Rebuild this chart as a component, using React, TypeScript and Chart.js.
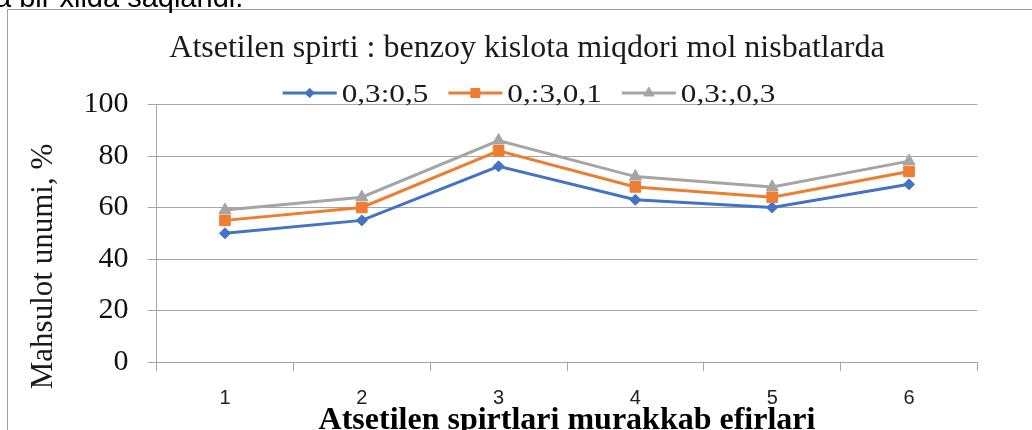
import { useEffect, useRef } from "react";
import { Chart, registerables } from "chart.js";

Chart.register(...registerables);

// ---- data ----
const categories = ["1", "2", "3", "4", "5", "6"];
const seriesNames = ["0,3:0,5", "0,:3,0,1", "0,3:,0,3"];
const seriesA = [50, 55, 76, 63, 60, 69];
const seriesB = [55, 60, 82, 68, 64, 74];
const seriesC = [59, 64, 86, 72, 68, 78];
const yTickValues = [0, 20, 40, 60, 80, 100];
const chartTitle = "Atsetilen spirti : benzoy kislota miqdori mol nisbatlarda";
const xAxisTitle = "Atsetilen spirtlari murakkab efirlari";
const yAxisTitle = "Mahsulot unumi, %";
const captionText = "a bir xilda saqlandi.";

const colors = ["#4472C4", "#ED7D31", "#A5A5A5"];
const pointStyles = ["rectRot", "rect", "triangle"];
const pointRadii = [5.5, 7.5, 7];
const gridColor = "#a6a6a6";
const serif = '"Liberation Serif", "Times New Roman", serif';
const sans = '"Liberation Sans", Arial, sans-serif';

function drawMarker(ctx: CanvasRenderingContext2D, style: string, x: number, y: number, r: number, color: string) {
  ctx.save();
  ctx.fillStyle = color;
  ctx.strokeStyle = color;
  ctx.lineWidth = 1;
  ctx.beginPath();
  if (style === "rect") {
    const s = Math.SQRT1_2 * r;
    ctx.rect(x - s, y - s, 2 * s, 2 * s);
  } else if (style === "rectRot") {
    ctx.moveTo(x - r, y);
    ctx.lineTo(x, y - r);
    ctx.lineTo(x + r, y);
    ctx.lineTo(x, y + r);
    ctx.closePath();
  } else {
    let rad = 0;
    ctx.moveTo(x + Math.sin(rad) * r, y - Math.cos(rad) * r);
    rad += (2 * Math.PI) / 3;
    ctx.lineTo(x + Math.sin(rad) * r, y - Math.cos(rad) * r);
    rad += (2 * Math.PI) / 3;
    ctx.lineTo(x + Math.sin(rad) * r, y - Math.cos(rad) * r);
    ctx.closePath();
  }
  ctx.fill();
  ctx.stroke();
  ctx.restore();
}

const decorPlugin = {
  id: "decor",
  afterDraw(chart: any) {
    const ctx: CanvasRenderingContext2D = chart.ctx;
    const area = chart.chartArea;
    ctx.save();

    // outer frame of the embedded chart
    ctx.strokeStyle = "#a0a0a0";
    ctx.lineWidth = 1;
    ctx.strokeRect(7.5, 9.5, 1100, 500);

    // caption of the surrounding document, cut at the top
    ctx.fillStyle = "#000";
    ctx.font = `29px ${sans}`;
    ctx.textAlign = "left";
    ctx.textBaseline = "alphabetic";
    ctx.fillText(captionText, -5, 7);

    // chart title
    ctx.fillStyle = "#1a1a1a";
    ctx.font = `32px ${serif}`;
    ctx.textAlign = "center";
    ctx.fillText(chartTitle, 527, 57);

    // legend
    const lineLen = 54;
    const gap = 5;
    const itemGap = 20;
    const sx = 1.2;
    ctx.font = `26px ${serif}`;
    const widths = seriesNames.map((n) => ctx.measureText(n).width * sx);
    const total = widths.reduce((a, w) => a + lineLen + gap + w, 0) + itemGap * (seriesNames.length - 1);
    let x = 529 - total / 2;
    const ly = 93;
    seriesNames.forEach((name, i) => {
      ctx.strokeStyle = colors[i];
      ctx.lineWidth = 3;
      ctx.beginPath();
      ctx.moveTo(x, ly);
      ctx.lineTo(x + lineLen, ly);
      ctx.stroke();
      drawMarker(ctx, pointStyles[i], x + lineLen / 2, ly, pointRadii[i] * 0.85, colors[i]);
      ctx.save();
      ctx.fillStyle = "#1a1a1a";
      ctx.textAlign = "left";
      ctx.translate(x + lineLen + gap, 102);
      ctx.scale(sx, 1);
      ctx.fillText(name, 0, 0);
      ctx.restore();
      x += lineLen + gap + widths[i] + itemGap;
    });

    // y axis title
    ctx.save();
    ctx.fillStyle = "#1a1a1a";
    ctx.font = `31px ${serif}`;
    ctx.textAlign = "center";
    ctx.translate(52, 266.5);
    ctx.rotate(-Math.PI / 2);
    ctx.fillText(yAxisTitle, 0, 0);
    ctx.restore();

    // x axis title
    ctx.fillStyle = "#000";
    ctx.font = `bold 32px ${serif}`;
    ctx.textAlign = "center";
    ctx.fillText(xAxisTitle, (area.left + area.right) / 2, 429);

    ctx.restore();
  },
};

export default function App() {
  const canvasRef = useRef<HTMLCanvasElement | null>(null);

  useEffect(() => {
    if (!canvasRef.current) return;
    const data = [seriesA, seriesB, seriesC];
    const chart = new Chart(canvasRef.current, {
      type: "line",
      data: {
        labels: categories,
        datasets: data.map((d, i) => ({
          label: seriesNames[i],
          data: d,
          borderColor: colors[i],
          backgroundColor: colors[i],
          borderWidth: 3,
          pointStyle: pointStyles[i] as any,
          pointRadius: pointRadii[i],
          pointBorderWidth: 1,
          pointBorderColor: colors[i],
          pointBackgroundColor: colors[i],
          tension: 0,
          fill: false,
          order: 3 - i,
        })),
      },
      options: {
        animation: false,
        responsive: true,
        maintainAspectRatio: false,
        layout: { padding: { left: 0, right: 54.6, top: 104.5, bottom: 0 } },
        plugins: {
          legend: { display: false },
          title: { display: false },
          tooltip: { enabled: false },
        },
        scales: {
          x: {
            type: "category",
            offset: true,
            grid: { offset: true, drawOnChartArea: false, drawTicks: true, tickLength: 9, color: gridColor },
            border: { display: true, color: gridColor, width: 1 },
            ticks: { font: { family: sans, size: 20 }, color: "#222", padding: 15, maxRotation: 0 },
            afterFit: (s: any) => {
              s.height = 68;
            },
          },
          y: {
            min: 0,
            max: 100,
            afterBuildTicks: (s: any) => {
              s.ticks = yTickValues.map((v) => ({ value: v }));
            },
            grid: { color: gridColor, tickLength: 9, drawTicks: true },
            border: { display: true, color: gridColor, width: 1 },
            ticks: { font: { family: serif, size: 30 }, color: "#111", padding: 19 },
            afterFit: (s: any) => {
              s.width = 156.6;
            },
          },
        },
      },
      plugins: [decorPlugin],
    });
    return () => chart.destroy();
  }, []);

  return (
    <div style={{ position: "absolute", left: 0, top: 0, width: 1032, height: 430, overflow: "hidden", background: "#fff" }}>
      <canvas ref={canvasRef} />
    </div>
  );
}
